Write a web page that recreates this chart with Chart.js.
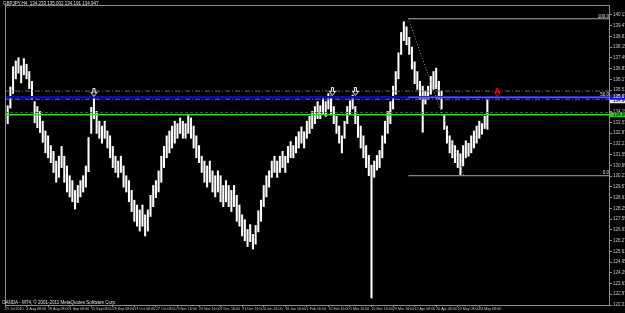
<!DOCTYPE html>
<html>
<head>
<meta charset="utf-8">
<script src="https://cdn.jsdelivr.net/npm/chart.js@4.4.1/dist/chart.umd.min.js"></script>
<style>
html, body { margin: 0; padding: 0; background: #000; }
</style>
</head>
<body>
<canvas id="gbpjpy" width="625" height="313"></canvas>
<script>
// Date labels under the chart, one every 8 columns
const dateLabels = ['21 Jul 2010', '4 Aug 08:00', '18 Aug 08:00', '1 Sep 08:00', '15 Sep 08:00',
    '29 Sep 08:00', '13 Oct 08:00', '27 Oct 08:00', '9 Nov 16:00', '23 Nov 16:00', '7 Dec 16:00',
    '21 Dec 16:00', '4 Jan 16:00', '18 Jan 16:00', '1 Feb 16:00', '15 Feb 16:00', '1 Mar 16:00',
    '15 Mar 16:00', '29 Mar 16:00', '12 Apr 08:00', '26 Apr 08:00', '10 May 08:00', '24 May 08:00'];

// Price scale labels on the right
const yTicks = [122.310, 122.970, 123.630, 124.290, 124.950, 125.610, 126.270, 126.930, 127.590,
    128.250, 128.910, 129.570, 130.230, 130.890, 131.550, 132.210, 132.870, 133.530, 134.190,
    134.850, 135.510, 136.170, 136.830, 137.490, 138.150, 138.810, 139.470, 140.130];

// GBPJPY H4, high/low per column
const highs = [133.95, 134.55, 135.70, 136.95, 137.30, 137.50, 137.00, 137.45, 137.10, 136.65,
    136.05, 134.80, 134.50, 134.20, 133.60, 133.00, 132.70, 132.10, 131.75, 131.15,
    131.45, 132.05, 131.45, 130.85, 130.25, 129.95, 129.35, 129.65, 129.95, 130.25,
    130.85, 132.60, 134.45, 135.10, 134.20, 133.60, 133.30, 133.60, 133.00, 132.70,
    132.05, 131.45, 131.15, 131.45, 130.85, 130.25, 129.95, 129.35, 128.75, 128.45,
    128.15, 128.45, 127.85, 128.15, 129.05, 129.65, 129.95, 130.55, 131.45, 132.05,
    132.70, 133.00, 133.30, 133.60, 133.45, 133.80, 133.60, 133.45, 133.95, 133.80,
    133.30, 132.70, 132.10, 131.45, 131.15, 130.85, 131.15, 130.55, 130.25, 130.55,
    130.25, 129.65, 129.95, 129.65, 129.35, 129.65, 129.05, 128.45, 127.85, 127.55,
    126.95, 127.25, 126.65, 127.20, 128.10, 128.75, 129.65, 130.25, 130.55, 131.15,
    131.45, 131.15, 131.45, 131.75, 131.45, 132.05, 132.35, 132.10, 132.65, 132.95,
    133.25, 132.95, 133.60, 133.90, 134.20, 134.50, 134.80, 134.55, 135.00, 134.80,
    135.30, 135.15, 134.50, 133.90, 133.30, 132.70, 133.60, 134.50, 134.85, 135.20,
    134.50, 133.90, 133.30, 132.70, 132.10, 131.50, 130.90, 131.15, 131.50, 131.80,
    132.70, 133.60, 134.20, 134.80, 135.75, 136.65, 137.80, 139.05, 139.71, 139.40,
    138.75, 138.15, 137.25, 136.65, 136.05, 135.75, 135.45, 135.75, 136.35, 136.65,
    136.86, 136.05, 135.45, 133.95, 133.30, 132.70, 132.40, 132.10, 131.80, 131.60,
    132.10, 132.40, 132.25, 132.70, 133.00, 133.30, 133.60, 133.45, 133.90, 134.92];
const lows = [133.10, 133.45, 134.40, 135.30, 136.20, 136.55, 135.95, 136.45, 136.20, 135.60,
    134.95, 133.50, 133.20, 132.90, 132.30, 131.65, 131.35, 131.05, 130.45, 129.85,
    130.15, 130.75, 129.85, 129.25, 128.95, 128.65, 128.20, 128.60, 128.95, 129.25,
    129.55, 130.50, 132.85, 133.75, 132.85, 132.55, 132.25, 132.55, 131.95, 131.35,
    130.75, 130.45, 130.15, 130.45, 129.55, 129.25, 128.65, 128.05, 127.45, 127.15,
    126.85, 127.15, 126.55, 126.85, 127.75, 128.35, 128.90, 129.25, 129.85, 130.75,
    131.35, 131.65, 131.95, 132.25, 132.55, 132.85, 132.55, 132.55, 132.85, 132.55,
    131.95, 131.35, 131.05, 130.45, 129.85, 129.55, 129.85, 129.25, 128.95, 129.25,
    128.65, 128.35, 128.65, 128.35, 128.05, 128.35, 127.45, 127.15, 126.55, 126.25,
    125.90, 126.20, 125.75, 126.05, 126.80, 127.45, 128.35, 128.95, 129.55, 130.15,
    130.45, 130.15, 130.45, 130.75, 130.45, 131.05, 131.35, 131.35, 131.65, 131.95,
    132.25, 131.95, 132.55, 132.85, 133.15, 133.45, 133.75, 133.75, 134.05, 133.90,
    134.35, 134.05, 133.45, 132.85, 132.25, 131.65, 132.55, 133.45, 134.05, 134.35,
    133.45, 132.60, 131.95, 131.35, 130.75, 130.25, 122.74, 130.15, 130.60, 130.75,
    131.35, 132.25, 132.85, 133.45, 134.35, 135.25, 136.20, 137.70, 138.55, 138.30,
    137.70, 136.80, 135.90, 135.55, 134.95, 132.92, 134.65, 134.95, 135.25, 135.55,
    135.60, 134.95, 134.35, 133.10, 132.25, 131.65, 131.35, 131.05, 130.75, 130.31,
    130.85, 131.35, 131.45, 131.65, 131.95, 132.25, 132.55, 132.80, 133.15, 133.10];

// Objects drawn on the chart
const fibHigh = 139.89, fibMid = 135.07, fibLow = 130.25;
const fibStartX = 149.7, fibEndX = 170.3;
const levelUpper = 135.45, bidLevel = 134.947;
const levelGreen = 134.00, levelGreenDash = 134.13;
const arrowX = [33, 121.5, 130, 182.7];
const arrowY = [135.34, 135.40, 135.40, 135.34];
const xMax = 224.5;
const yMin = 122.31, yMax = 140.736;
const tinyFont = 'Liberation Sans, Arial, sans-serif';

function makeArrow(color) {
    const c = document.createElement('canvas');
    c.width = 9; c.height = 10;
    const g = c.getContext('2d');
    g.strokeStyle = color;
    g.lineWidth = 1;
    g.beginPath();
    g.moveTo(3.5, 0.5); g.lineTo(5.5, 0.5); g.lineTo(5.5, 4.5); g.lineTo(7.5, 4.5);
    g.lineTo(4.5, 8.5); g.lineTo(1.5, 4.5); g.lineTo(3.5, 4.5); g.closePath();
    g.stroke();
    return c;
}
const whiteArrow = makeArrow('#ffffff');
const redArrow = makeArrow('#e01010');

function hline(value, x0, x1, color, width, dash, order) {
    return {
        type: 'line',
        data: [{ x: x0, y: value }, { x: x1, y: value }],
        borderColor: color,
        borderWidth: width,
        borderDash: dash || [],
        pointRadius: 0,
        order: order || 1
    };
}

// black background, frame, small texts and price boxes
const mtPlugin = {
    id: 'mtPlugin',
    beforeDraw(chart) {
        const ctx = chart.ctx;
        ctx.save();
        ctx.fillStyle = '#000';
        ctx.fillRect(0, 0, chart.width, chart.height);
        ctx.restore();
    },
    afterDatasetsDraw(chart) {
        const ctx = chart.ctx;
        const a = chart.chartArea;
        const y = chart.scales.y;
        ctx.save();
        ctx.strokeStyle = '#8c8c8c';
        ctx.lineWidth = 1;
        ctx.strokeRect(a.left + 0.5, a.top + 0.5, a.right - a.left - 1, a.bottom - a.top);

        ctx.font = '4.5px ' + tinyFont;
        ctx.textBaseline = 'middle';
        ctx.fillStyle = '#e0e0e0';
        ctx.textAlign = 'left';
        ctx.fillText('GBPJPY,H4  134.233 135.002 134.191 134.947', 3, 4);
        ctx.fillText('OANDA - MT4, \u00a9 2001-2011 MetaQuotes Software Corp.', 2, 302.5);

        ctx.textAlign = 'right';
        ctx.fillText('100.0', a.right - 1, y.getPixelForValue(fibHigh) - 2.5);
        ctx.fillText('50.0', a.right - 1, y.getPixelForValue(fibMid) - 2.5);
        ctx.fillText('0.0', a.right - 1, y.getPixelForValue(fibLow) - 2.5);

        const boxes = [
            [bidLevel, '#e6e6e6', '#000', '134.947', 1.5],
            [fibMid, '#1414c8', '#fff', '135.070', 0],
            [levelGreen, '#32c832', '#000', '134.000', 0]
        ];
        ctx.textAlign = 'left';
        boxes.forEach(b => {
            const py = y.getPixelForValue(b[0]) + b[4];
            ctx.fillStyle = b[1];
            ctx.fillRect(a.right, py - 2.5, chart.width - a.right, 5);
            ctx.fillStyle = b[2];
            ctx.fillText(b[3], a.right + 3, py);
        });
        ctx.restore();
    }
};

const ctx = document.getElementById('gbpjpy').getContext('2d');
new Chart(ctx, {
    type: 'bar',
    data: {
        datasets: [
            {
                type: 'bar',
                data: highs.map((h, i) => ({ x: i, y: [lows[i], h] })),
                backgroundColor: '#ffffff',
                borderWidth: 0,
                barThickness: 1.4,
                order: 3
            },
            hline(levelUpper, 0, xMax, '#6a6a6a', 1, [5, 2, 1, 2], 2),
            hline(bidLevel, 0, xMax, '#6a6a6a', 1, [5, 2, 1, 2], 2),
            hline(fibMid, 0, xMax, '#0c0cb0', 2.5, null, 2),
            hline(fibMid, fibStartX, xMax, '#7c7cea', 1, null, 1),
            hline(levelGreenDash, 0, xMax, '#2a6a2a', 1, [3, 2], 2),
            hline(levelGreen, 0, xMax, '#3cd23c', 1.5, null, 1),
            hline(fibHigh, fibStartX, xMax, '#a8a8a8', 1, null, 1),
            hline(fibLow, fibStartX, xMax, '#a8a8a8', 1, null, 1),
            {
                type: 'line',
                data: [{ x: fibStartX, y: fibHigh }, { x: fibEndX, y: fibLow }],
                borderColor: '#9a9a9a',
                borderWidth: 1,
                borderDash: [1, 2],
                pointRadius: 0,
                order: 1
            },
            {
                type: 'line',
                data: arrowX.map((x, i) => ({ x: x, y: arrowY[i] })),
                showLine: false,
                pointStyle: [whiteArrow, whiteArrow, whiteArrow, redArrow],
                order: 0
            }
        ]
    },
    options: {
        responsive: false,
        animation: false,
        devicePixelRatio: 1,
        layout: { padding: { left: 1, top: 1, right: 0, bottom: 0 } },
        plugins: { legend: { display: false }, tooltip: { enabled: false } },
        scales: {
            x: {
                type: 'linear',
                min: 0,
                max: xMax,
                offset: false,
                grid: { offset: false, drawOnChartArea: false, tickLength: 2, color: '#8c8c8c' },
                border: { display: false },
                ticks: {
                    align: 'start',
                    autoSkip: false,
                    maxRotation: 0,
                    padding: 0,
                    color: '#c8c8c8',
                    font: { size: 3.6, family: tinyFont },
                    callback: v => dateLabels[Math.round(v / 8)]
                },
                afterBuildTicks: s => { s.ticks = dateLabels.map((_, k) => ({ value: k * 8 })); },
                afterFit: s => { s.height = 8; }
            },
            y: {
                position: 'right',
                min: yMin,
                max: yMax,
                grid: { drawOnChartArea: false, tickLength: 2, color: '#8c8c8c' },
                border: { display: false },
                ticks: {
                    padding: 1,
                    color: '#c8c8c8',
                    font: { size: 4.5, family: tinyFont },
                    callback: v => v.toFixed(3)
                },
                afterBuildTicks: s => { s.ticks = yTicks.map(v => ({ value: v })); },
                afterFit: s => { s.width = 15; }
            }
        }
    },
    plugins: [mtPlugin]
});
</script>
</body>
</html>
